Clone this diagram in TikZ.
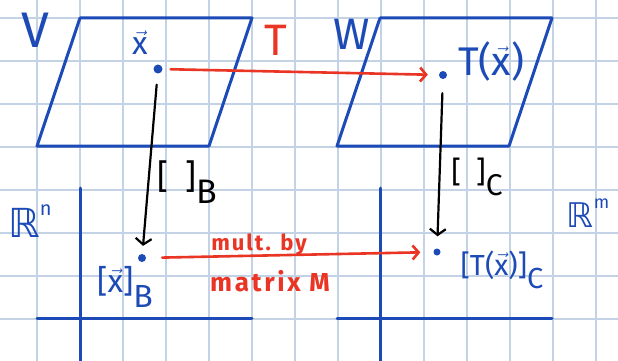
\documentclass[tikz,border=0pt]{standalone}
\usepackage{fontspec}
\setmainfont{Fira Sans}
\newfontfamily\symfont{DejaVu Sans}
\usetikzlibrary{arrows.meta}
\definecolor{gridc}{RGB}{196,210,230}
\definecolor{penblue}{RGB}{28,74,182}
\definecolor{penred}{RGB}{234,52,36}
\tikzset{
  pen/.style={line width=3pt, line cap=round, line join=round},
  bluepen/.style={pen, draw=penblue},
  dot/.style={circle, fill=penblue, inner sep=0pt, minimum size=#1},
  redarrow/.style={draw=penred, line width=2.6pt, line cap=round, -{Straight Barb[length=6pt,width=14pt,line width=2.6pt]}},
  blackarrow/.style={draw=black, line width=2.2pt, line cap=round, -{Straight Barb[length=6pt,width=16pt,line width=2.2pt]}},
  bluelab/.style={text=penblue, inner sep=0pt},
  redlab/.style={text=penred, inner sep=0pt},
  blacklab/.style={text=black, inner sep=0pt}
}
\newcommand{\sub}[1]{\raisebox{-0.45em}{#1}}
\newcommand{\vx}{\ensuremath{\vec{\mbox{x}}}}
\begin{document}
\begin{tikzpicture}[x=1pt,y=-1pt]
\useasboundingbox (0,0) rectangle (618,361);
\fill[white] (0,0) rectangle (618,361);
% grid paper
\foreach \i in {0,...,13} \draw[gridc, line width=1.1pt] ({37+43*\i},0) -- ({37+43*\i},361);
\foreach \j in {0,...,8} \draw[gridc, line width=1.1pt] (0,{18+43*\j}) -- (618,{18+43*\j});
% vector spaces V and W
\draw[bluepen] (80,18) -- (252,18) -- (209,146) -- (37,146) -- cycle;
\draw[bluepen] (380,18) -- (552,18) -- (509,146) -- (337,146) -- cycle;
% coordinate axes R^n and R^m
\draw[bluepen] (80,188) -- (80,361);
\draw[bluepen] (37,318) -- (252,318);
\draw[bluepen] (380,188) -- (380,361);
\draw[bluepen] (337,318) -- (552,318);
% points
\node[dot=9pt] (x) at (158,69) {};
\node[dot=8pt] (Tx) at (443,75) {};
\node[dot=8pt] (xB) at (142,258) {};
\node[dot=7pt] (TxC) at (437,252) {};
% labels
\node[bluelab, font=\fontsize{50}{50}\selectfont] (Vlab) at (35,30) {V};
\node[bluelab, font=\fontsize{44}{44}\selectfont] (Wlab) at (352,34) {W};
\node[bluelab, font=\fontsize{32}{32}\selectfont] (xlab) at (140,43) {\vx};
\node[bluelab, font=\fontsize{40}{40}\selectfont] (Txlab) at (491,61) {T(\vx)};
\node[redlab, font=\fontsize{44}{44}\selectfont] (Tlab) at (276,40) {T};
\node[blacklab, font=\fontsize{34}{34}\selectfont] (Blab) at (187,182) {[\,\,\,]\sub{B}};
\node[blacklab, font=\fontsize{30}{30}\selectfont] (Clab) at (477,177) {[\,\,\,]\sub{C}};
\node[bluelab, font=\fontsize{40}{40}\selectfont] (Rn) at (30,221) {{\symfont ℝ}\raisebox{0.55em}{\fontsize{20}{20}\selectfont n}};
\node[bluelab, font=\fontsize{34}{34}\selectfont] (Rm) at (588,213) {{\symfont ℝ}\raisebox{0.55em}{\fontsize{18}{18}\selectfont m}};
\node[bluelab, font=\fontsize{32}{32}\selectfont] (xBlab) at (125,287) {[\vx]\sub{B}};
\node[bluelab, font=\fontsize{29}{29}\selectfont] (TxClab) at (502,270) {[T(\vx)]\sub{C}};
\node[redlab, font=\fontsize{22}{22}\selectfont\bfseries\addfontfeatures{LetterSpace=9}] (mult) at (259,245) {mult. by};
\node[redlab, font=\fontsize{26}{26}\selectfont\bfseries\addfontfeatures{LetterSpace=10}] (matrix) at (270,281) {matrix M};
% maps
\draw[redarrow, shorten <=8pt, shorten >=11pt] (x) -- (Tx);
\draw[redarrow, shorten <=16pt, shorten >=13pt] (xB) -- (TxC);
\draw[blackarrow, shorten <=11pt, shorten >=8pt] (x) -- (xB);
\draw[blackarrow, shorten <=14pt, shorten >=12pt] (Tx) -- (TxC);
\end{tikzpicture}
\end{document}
